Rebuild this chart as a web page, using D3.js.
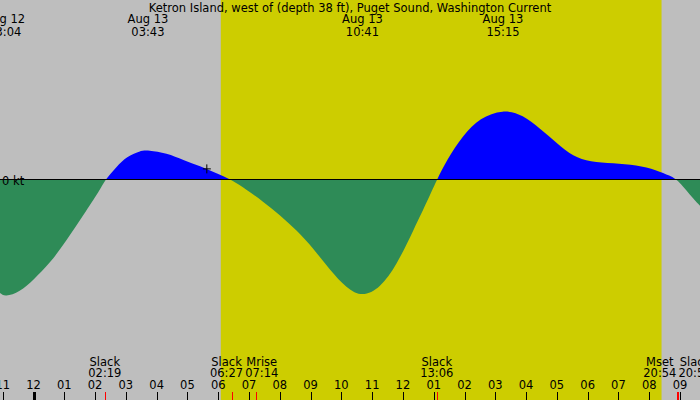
<!DOCTYPE html>
<html>
<head>
<meta charset="utf-8">
<script src="https://cdn.jsdelivr.net/npm/d3@7"></script>
<style>
  body { margin: 0; }
  text { font-family: "DejaVu Sans", sans-serif; font-size: 11.5px; fill: #000; }
</style>
</head>
<body>
<div id="chart"></div>
<script>
// hours are counted from Aug 13 00:00 (negative = Aug 12)
var curveHours = [-1.09, -0.93, -0.44, -0.01, 0.54, 1.08, 1.62, 2.16, 2.32, 2.70, 3.03, 3.46, 3.72, 4.33, 4.87, 5.41, 5.95, 6.45,
                  6.93, 7.46, 8.01, 8.55, 9.09, 9.63, 10.17, 10.68, 11.26, 11.80, 12.34, 12.88, 13.10,
                  13.42, 13.96, 14.50, 15.25, 15.91, 16.45, 17.00, 17.53, 18.08, 18.83, 19.59, 20.24, 20.68, 20.93,
                  21.33, 21.65];
var curveKnots = [-1.93, -2.0, -1.91, -1.71, -1.42, -1.03, -0.60, -0.17, 0, 0.23, 0.40, 0.50, 0.51, 0.46, 0.34, 0.24, 0.115, 0,
                  -0.17, -0.37, -0.60, -0.86, -1.17, -1.54, -1.85, -2.0, -1.85, -1.45, -0.86, -0.26, 0,
                  0.34, 0.77, 1.06, 1.21, 1.11, 0.88, 0.63, 0.40, 0.31, 0.285, 0.256, 0.17, 0.07, 0,
                  -0.26, -0.44];

var extremaDates = ["Aug 12", "Aug 13", "Aug 13", "Aug 13"];
var extremaTimes = ["23:04", "03:43", "10:41", "15:15"];
var extremaDay = [-1, 0, 0, 0];

var eventNames = ["Slack", "Slack", "Mrise", "Slack", "Mset", "Slack"];
var eventTimes = ["02:19", "06:27", "07:14", "13:06", "20:54", "20:56"];

var sunrise = "06:05", sunset = "20:24";
var nowHour = 5.63, nowKnots = 0.19;
var hourTicks = d3.range(-1, 22);
var title = "Ketron Island, west of (depth 38 ft), Puget Sound, Washington Current";

function toHours(s, day) {
  var p = s.split(":");
  return (day || 0) * 24 + (+p[0]) + (+p[1]) / 60;
}

var width = 700, height = 400;

var svg = d3.select("#chart").append("svg")
  .attr("width", width).attr("height", height);

var x = d3.scaleLinear().domain([0, 21]).range([33.5, 680]);
var y = d3.scaleLinear().domain([-2, 2]).range([297, 63]);

// night + day background
svg.append("rect").attr("width", width).attr("height", height).attr("fill", "#bebebe");
svg.append("rect")
  .attr("x", x(toHours(sunrise))).attr("y", 0)
  .attr("width", x(toHours(sunset)) - x(toHours(sunrise))).attr("height", height)
  .attr("fill", "#cdcd00");

var pts = curveHours.map(function(h, i) { return { h: h, v: curveKnots[i] }; });

// zero line
svg.append("line")
  .attr("x1", 0).attr("x2", width)
  .attr("y1", y(0) - 0.5).attr("y2", y(0) - 0.5)
  .attr("stroke", "#000").attr("stroke-width", 1);

var defs = svg.append("defs");
defs.append("clipPath").attr("id", "above")
  .append("rect").attr("x", 0).attr("y", 0).attr("width", width).attr("height", y(0) - 1);
defs.append("clipPath").attr("id", "below")
  .append("rect").attr("x", 0).attr("y", y(0)).attr("width", width).attr("height", height);

var area = d3.area()
  .x(function(d) { return x(d.h); })
  .y0(y(0))
  .y1(function(d) { return y(d.v); })
  .curve(d3.curveBasis);

svg.append("path").datum(pts).attr("d", area)
  .attr("fill", "#0000ff").attr("clip-path", "url(#above)");
svg.append("path").datum(pts)
  .attr("d", area.y0(y(0) - 0.5))
  .attr("fill", "#2e8b57").attr("clip-path", "url(#below)");

// current time marker
var cross = svg.append("g").attr("stroke", "#000").attr("stroke-width", 1);
cross.append("line")
  .attr("x1", x(nowHour) - 4).attr("x2", x(nowHour) + 4)
  .attr("y1", y(nowKnots)).attr("y2", y(nowKnots));
cross.append("line")
  .attr("x1", x(nowHour)).attr("x2", x(nowHour))
  .attr("y1", y(nowKnots) - 4.5).attr("y2", y(nowKnots) + 4.5);

svg.append("text").attr("x", 2).attr("y", y(0) + 4.5).text("0 kt");

// title
svg.append("text").attr("x", width / 2).attr("y", 12)
  .attr("text-anchor", "middle").text(title);

// max / min labels at top
extremaTimes.forEach(function(t, i) {
  var cx = x(toHours(t, extremaDay[i]));
  svg.append("text").attr("x", cx).attr("y", 23).attr("text-anchor", "middle").text(extremaDates[i]);
  svg.append("text").attr("x", cx).attr("y", 35.5).attr("text-anchor", "middle").text(t);
});

// hour ticks
hourTicks.forEach(function(h) {
  var hx = Math.round(x(h)) + 0.5;
  var midnight = (h % 24 === 0);
  svg.append("line")
    .attr("x1", hx).attr("x2", hx).attr("y1", 392).attr("y2", height)
    .attr("stroke", "#000").attr("stroke-width", midnight ? 3 : 1);
  var h12 = ((h % 12) + 12) % 12 || 12;
  svg.append("text").attr("x", x(h)).attr("y", 389)
    .attr("text-anchor", "middle").text(d3.format("02")(h12));
});

// events at bottom
var events = eventNames.map(function(n, i) {
  return { name: n, time: eventTimes[i], cx: x(toHours(eventTimes[i])) };
});
events.forEach(function(e) {
  var ex = Math.round(e.cx) + 0.5;
  svg.append("line")
    .attr("x1", ex).attr("x2", ex).attr("y1", 392).attr("y2", height)
    .attr("stroke", "#ff0000").attr("stroke-width", 1);
  e.g = svg.append("g");
  e.g.append("text").attr("y", 366).attr("text-anchor", "middle").text(e.name);
  e.g.append("text").attr("y", 377).attr("text-anchor", "middle").text(e.time);
  e.w = Math.max.apply(null, e.g.selectAll("text").nodes().map(function(n) { return n.getComputedTextLength(); }));
});
// push overlapping labels apart
for (var k = 0; k < 10; k++) {
  for (var i = 0; i < events.length - 1; i++) {
    var a = events[i], b = events[i + 1];
    var need = (a.w + b.w) / 2 + 2 - (b.cx - a.cx);
    if (need > 0) { a.cx -= need / 2; b.cx += need / 2; }
  }
}
events.forEach(function(e) { e.g.attr("transform", "translate(" + e.cx + ",0)"); });
</script>
</body>
</html>
